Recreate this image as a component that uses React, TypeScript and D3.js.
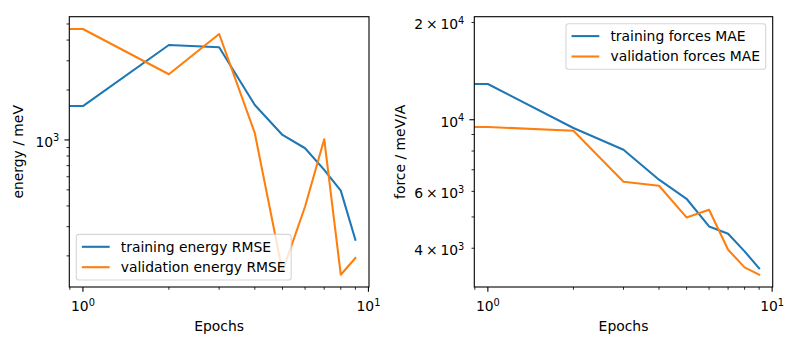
import React, { useEffect, useRef } from "react";
import * as d3 from "d3";

// epochs (epoch 0 is clipped by the log x axis, as in matplotlib)
const epochs = [0, 1, 2, 3, 4, 5, 6, 7, 8, 9];

const trainEnergyRmse = [2900, 1600, 3735, 3618, 1625, 1072, 891, 660, 495, 250];
const validEnergyRmse = [4100, 4665, 2488, 4352, 1098, 161, 397, 1010, 154, 194];

const trainForcesMae = [19100, 12900, 9425, 8074, 6520, 5692, 4674, 4436, 3912, 3465];
const validForcesMae = [11000, 9493, 9245, 6427, 6247, 4984, 5265, 3959, 3490, 3312];

const energyLabels = ["training energy RMSE", "validation energy RMSE"];
const forceLabels = ["training forces MAE", "validation forces MAE"];

const colors = ["#1f77b4", "#ff7f0e"];

const W = 800;
const H = 350;
const fs = 13.9; // 10pt at 100 dpi
const FONT = "DejaVu Sans, sans-serif";

type Panel = {
  id: string;
  x0: number;
  x1: number;
  y0: number;
  y1: number;
  series: number[][];
  labels: string[];
  ylabel: string;
  ylabelX: number;
  legendLoc: "lower left" | "upper right";
  minorLabels: number[];
};

// log extent with 5% margins (in log space), positive values only
const logExtent = (vals: number[]): [number, number] => {
  const lv = vals.filter(v => v > 0).map(Math.log10);
  const lo = d3.min(lv)!;
  const hi = d3.max(lv)!;
  const m = (hi - lo) * 0.05;
  return [10 ** (lo - m), 10 ** (hi + m)];
};

const logTicks = (dom: [number, number]) => {
  const out: { v: number; k: number; d: number }[] = [];
  for (let d = Math.floor(Math.log10(dom[0])); d <= Math.ceil(Math.log10(dom[1])); d++) {
    for (let k = 1; k <= 9; k++) {
      const v = k * 10 ** d;
      if (v >= dom[0] * 0.9999 && v <= dom[1] * 1.0001) out.push({ v, k, d });
    }
  }
  return out;
};

const App: React.FC = () => {
  const svgRef = useRef<SVGSVGElement | null>(null);

  useEffect(() => {
    const svg = d3.select(svgRef.current);
    svg.selectAll("*").remove();

    const panels: Panel[] = [
      {
        id: "energy",
        x0: 69.3, x1: 369, y0: 16.7, y1: 287,
        series: [trainEnergyRmse, validEnergyRmse],
        labels: energyLabels,
        ylabel: "energy / meV",
        ylabelX: 23,
        legendLoc: "lower left",
        minorLabels: [],
      },
      {
        id: "forces",
        x0: 474.3, x1: 772.7, y0: 16.7, y1: 287,
        series: [trainForcesMae, validForcesMae],
        labels: forceLabels,
        ylabel: "force / meV/A",
        ylabelX: 405,
        legendLoc: "upper right",
        minorLabels: [2, 4, 6],
      },
    ];

    panels.forEach(p => {
      const xDom = logExtent(epochs);
      const yDom = logExtent(p.series.flat());
      const xScale = d3.scaleLog().domain(xDom).range([p.x0, p.x1]);
      const yScale = d3.scaleLog().domain(yDom).range([p.y1, p.y0]);

      const g = svg.append("g");

      g.append("clipPath")
        .attr("id", `clip-${p.id}`)
        .append("rect")
        .attr("x", p.x0)
        .attr("y", p.y0)
        .attr("width", p.x1 - p.x0)
        .attr("height", p.y1 - p.y0);

      // lines
      const line = d3.line<number>()
        .x((_, i) => (epochs[i] > 0 ? xScale(epochs[i]) : xScale(1e-300)))
        .y(d => yScale(d));

      p.series.forEach((s, i) => {
        g.append("path")
          .datum(s)
          .attr("clip-path", `url(#clip-${p.id})`)
          .attr("fill", "none")
          .attr("stroke", colors[i])
          .attr("stroke-width", 2.08)
          .attr("stroke-linejoin", "round")
          .attr("stroke-linecap", "square")
          .attr("d", line);
      });

      // spines
      g.append("rect")
        .attr("x", p.x0)
        .attr("y", p.y0)
        .attr("width", p.x1 - p.x0)
        .attr("height", p.y1 - p.y0)
        .attr("fill", "none")
        .attr("stroke", "#000")
        .attr("stroke-width", 1.1);

      // x ticks
      const xt = logTicks(xDom);
      g.selectAll(".xtick")
        .data(xt)
        .enter()
        .append("line")
        .attr("x1", d => xScale(d.v))
        .attr("x2", d => xScale(d.v))
        .attr("y1", p.y1)
        .attr("y2", d => p.y1 + (d.k === 1 ? 4.86 : 2.78))
        .attr("stroke", "#000")
        .attr("stroke-width", d => (d.k === 1 ? 1.1 : 0.83));

      const xl = g.selectAll(".xlab")
        .data(xt.filter(d => d.k === 1))
        .enter()
        .append("text")
        .attr("x", d => xScale(d.v))
        .attr("y", 311)
        .attr("text-anchor", "middle")
        .style("font-family", FONT)
        .style("font-size", `${fs}px`)
        .style("fill", "#000");
      xl.append("tspan").text("10");
      xl.append("tspan").attr("dy", -5.5).style("font-size", "9.8px").text(d => d.d);

      // y ticks
      const yt = logTicks(yDom);
      g.selectAll(".ytick")
        .data(yt)
        .enter()
        .append("line")
        .attr("x1", p.x0)
        .attr("x2", d => p.x0 - (d.k === 1 ? 4.86 : 2.78))
        .attr("y1", d => yScale(d.v))
        .attr("y2", d => yScale(d.v))
        .attr("stroke", "#000")
        .attr("stroke-width", d => (d.k === 1 ? 1.1 : 0.83));

      const yl = g.selectAll(".ylab")
        .data(yt.filter(d => d.k === 1 || p.minorLabels.includes(d.k)))
        .enter()
        .append("text")
        .attr("x", p.x0 - 10)
        .attr("y", d => yScale(d.v) + 6.8)
        .attr("text-anchor", "end")
        .style("font-family", FONT)
        .style("font-size", `${fs}px`)
        .style("fill", "#000");
      yl.append("tspan").text(d => (d.k === 1 ? "10" : `${d.k}\u2009×\u200910`));
      yl.append("tspan").attr("dy", -5.5).style("font-size", "9.8px").text(d => d.d);

      // axis labels
      g.append("text")
        .attr("x", (p.x0 + p.x1) / 2)
        .attr("y", 331)
        .attr("text-anchor", "middle")
        .style("font-family", FONT)
        .style("font-size", `${fs}px`)
        .style("fill", "#000")
        .text("Epochs");

      g.append("text")
        .attr("transform", `translate(${p.ylabelX}, ${(p.y0 + p.y1) / 2}) rotate(-90)`)
        .attr("text-anchor", "middle")
        .style("font-family", FONT)
        .style("font-size", `${fs}px`)
        .style("fill", "#000")
        .text(p.ylabel);

      // legend
      const leg = g.append("g");
      const frame = leg.append("rect");
      const texts = p.labels.map((lab, i) =>
        leg.append("text")
          .style("font-family", FONT)
          .style("font-size", `${fs}px`)
          .style("fill", "#000")
          .text(lab)
          .attr("data-i", i)
      );
      const textLen = d3.max(texts, t => (t.node() as SVGTextElement).getComputedTextLength())!;
      const pad = 0.4 * fs;
      const handle = 2 * fs;
      const hpad = 0.8 * fs;
      const boxW = pad + handle + hpad + textLen + pad;
      const rowH = 20.4;
      const boxH = 45.6;
      const bx = p.legendLoc === "lower left" ? p.x0 + 7 : p.x1 - 7 - boxW;
      const by = p.legendLoc === "lower left" ? p.y1 - 7 - boxH : p.y0 + 7;

      frame
        .attr("x", bx)
        .attr("y", by)
        .attr("width", boxW)
        .attr("height", boxH)
        .attr("rx", 2.8)
        .attr("fill", "#fff")
        .attr("fill-opacity", 0.8)
        .attr("stroke", "#cccccc")
        .attr("stroke-opacity", 0.8)
        .attr("stroke-width", 1.1);

      p.labels.forEach((_, i) => {
        const ry = by + 12.4 + i * rowH;
        leg.append("line")
          .attr("x1", bx + pad)
          .attr("x2", bx + pad + handle)
          .attr("y1", ry)
          .attr("y2", ry)
          .attr("stroke", colors[i])
          .attr("stroke-width", 2.08);
        texts[i]
          .attr("x", bx + pad + handle + hpad)
          .attr("y", ry + 4.7);
      });
    });
  }, []);

  return (
    <div style={{ position: "absolute", left: 0, top: 0, width: W, height: H, background: "#fff" }}>
      <svg ref={svgRef} width={W} height={H} style={{ display: "block" }}></svg>
    </div>
  );
};

export default App;
